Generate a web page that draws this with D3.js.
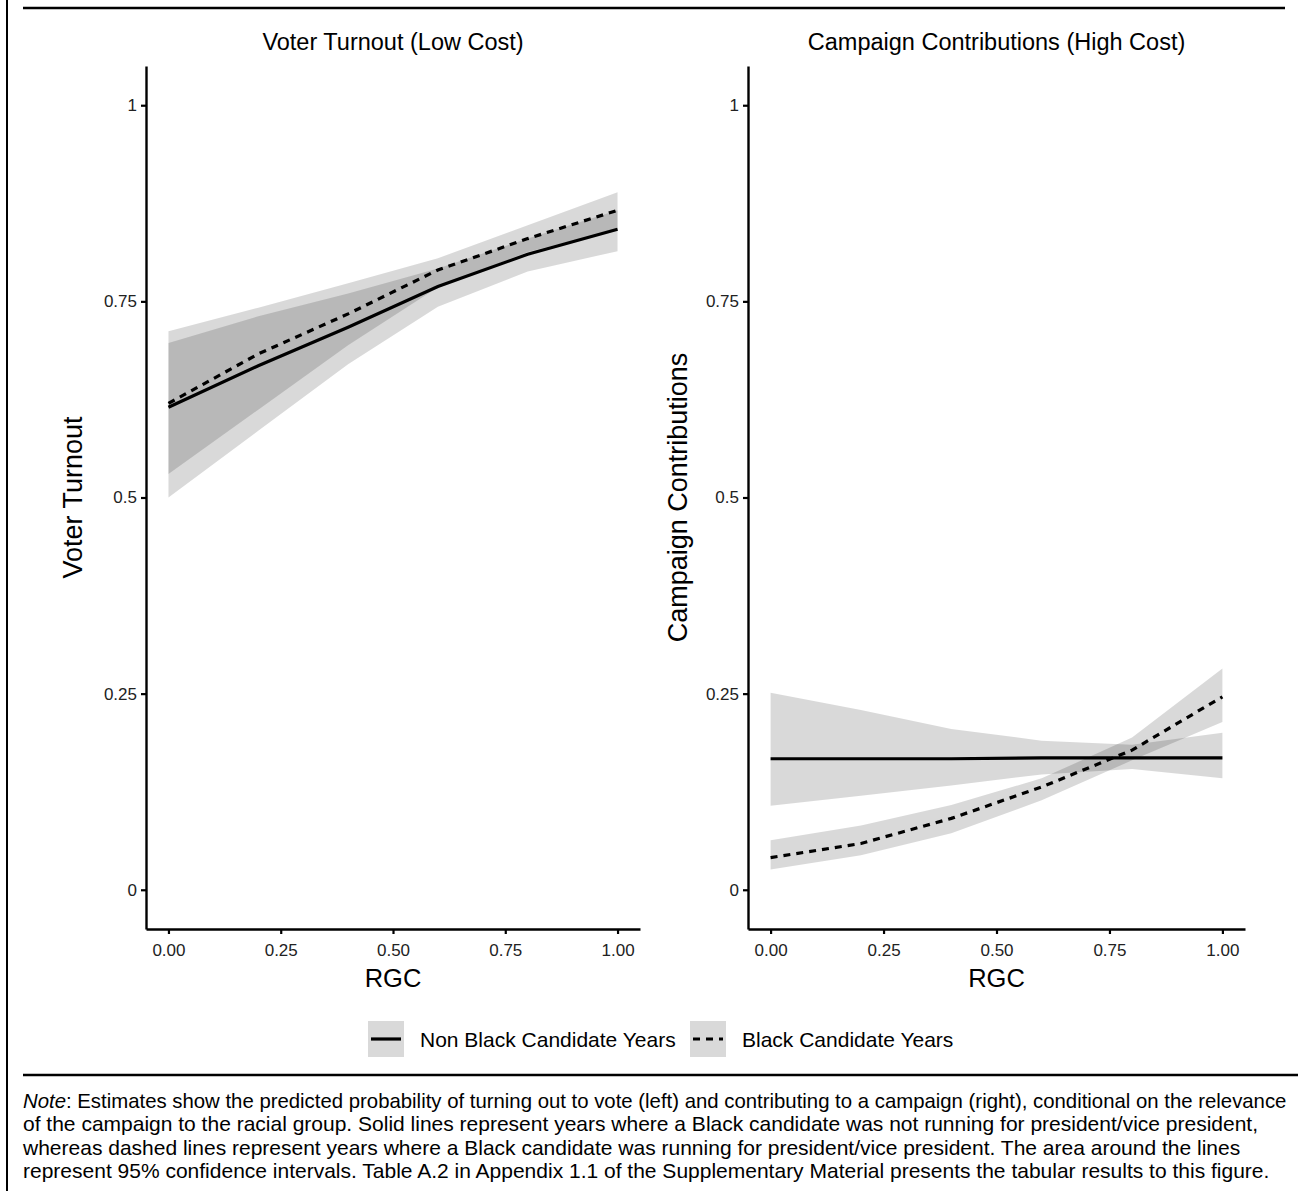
<!DOCTYPE html>
<html>
<head>
<meta charset="utf-8">
<script src="https://cdn.jsdelivr.net/npm/d3@7"></script>
<style>
  body { margin: 0; background: #fff; }
  svg { display: block; font-family: "Liberation Sans", Arial, sans-serif; }
</style>
</head>
<body>
<div id="chart"></div>
<script>
let width = 1298,
    height = 1191,
    ribbonFill = "#000",
    ribbonOpacity = 0.15;

// predicted probabilities at these RGC values
const rgc = [0, 0.2, 0.4, 0.6, 0.8, 1];

// voter turnout
const turnoutNonFit  = [0.615, 0.668, 0.717, 0.769, 0.810, 0.842];
const turnoutNonLow  = [0.500, 0.585, 0.670, 0.743, 0.788, 0.814];
const turnoutNonHigh = [0.697, 0.731, 0.760, 0.792, 0.830, 0.866];
const turnoutBlkFit  = [0.620, 0.683, 0.734, 0.790, 0.830, 0.866];
const turnoutBlkLow  = [0.530, 0.612, 0.694, 0.768, 0.813, 0.842];
const turnoutBlkHigh = [0.712, 0.742, 0.773, 0.805, 0.847, 0.889];

// campaign contributions
const contribNonFit  = [0.167, 0.167, 0.167, 0.168, 0.168, 0.168];
const contribNonLow  = [0.107, 0.120, 0.133, 0.147, 0.154, 0.142];
const contribNonHigh = [0.251, 0.229, 0.205, 0.190, 0.185, 0.200];
const contribBlkFit  = [0.041, 0.059, 0.091, 0.131, 0.178, 0.246];
const contribBlkLow  = [0.026, 0.044, 0.072, 0.114, 0.165, 0.214];
const contribBlkHigh = [0.063, 0.082, 0.108, 0.142, 0.194, 0.282];

const xTicks = [0, 0.25, 0.5, 0.75, 1];
const xTickLabels = ["0.00", "0.25", "0.50", "0.75", "1.00"];
const yTicks = [0, 0.25, 0.5, 0.75, 1];
const yTickLabels = ["0", "0.25", "0.5", "0.75", "1"];

const seriesNames = ["Non Black Candidate Years", "Black Candidate Years"];
const dashes = [null, "7,6"];

const noteLines = [
  ": Estimates show the predicted probability of turning out to vote (left) and contributing to a campaign (right), conditional on the relevance",
  "of the campaign to the racial group. Solid lines represent years where a Black candidate was not running for president/vice president,",
  "whereas dashed lines represent years where a Black candidate was running for president/vice president. The area around the lines",
  "represent 95% confidence intervals. Table A.2 in Appendix 1.1 of the Supplementary Material presents the tabular results to this figure."
];

const panels = [
  { title: "Voter Turnout (Low Cost)", ytitle: "Voter Turnout", left: 146, right: 640, ytx: 82,
    series: [[turnoutNonFit, turnoutNonLow, turnoutNonHigh], [turnoutBlkFit, turnoutBlkLow, turnoutBlkHigh]] },
  { title: "Campaign Contributions (High Cost)", ytitle: "Campaign Contributions", left: 748, right: 1245, ytx: 687,
    series: [[contribNonFit, contribNonLow, contribNonHigh], [contribBlkFit, contribBlkLow, contribBlkHigh]] }
];

const svg = d3.select("#chart").append("svg")
    .attr("width", width)
    .attr("height", height);

// frame lines
svg.append("line").attr("x1", 7).attr("x2", 7).attr("y1", 0).attr("y2", height)
    .attr("stroke", "#000").attr("stroke-width", 2);
svg.append("line").attr("x1", 23).attr("x2", 1285).attr("y1", 8).attr("y2", 8)
    .attr("stroke", "#000").attr("stroke-width", 2.5);
svg.append("line").attr("x1", 23).attr("x2", width).attr("y1", 1075).attr("y2", 1075)
    .attr("stroke", "#000").attr("stroke-width", 2.5);

const plotTop = 66, plotBottom = 929;

const y = d3.scaleLinear().domain([-0.05, 1.05]).range([plotBottom, plotTop]);

panels.forEach(p => {
    const x = d3.scaleLinear().domain([-0.05, 1.05]).range([p.left, p.right]);
    const g = svg.append("g");

    const area = d3.area()
        .x((d, i) => x(rgc[i]))
        .y0(d => y(d[0]))
        .y1(d => y(d[1]));

    const line = d3.line()
        .x((d, i) => x(rgc[i]))
        .y(d => y(d));

    p.series.forEach(s => {
        g.append("path")
            .datum(rgc.map((r, i) => [s[1][i], s[2][i]]))
            .attr("fill", ribbonFill)
            .attr("fill-opacity", ribbonOpacity)
            .attr("d", area);
    });

    p.series.forEach((s, k) => {
        g.append("path")
            .datum(s[0])
            .attr("fill", "none")
            .attr("stroke", "#000")
            .attr("stroke-width", 3.2)
            .attr("stroke-dasharray", dashes[k])
            .attr("d", line);
    });

    const xAxis = g.append("g")
        .attr("transform", `translate(0, ${plotBottom})`)
        .call(d3.axisBottom(x).tickValues(xTicks).tickFormat((d, i) => xTickLabels[i])
            .tickSize(5).tickSizeOuter(0).tickPadding(10));

    const yAxis = g.append("g")
        .attr("transform", `translate(${p.left}, 0)`)
        .call(d3.axisLeft(y).tickValues(yTicks).tickFormat((d, i) => yTickLabels[i])
            .tickSize(5).tickSizeOuter(0).tickPadding(4));

    [xAxis, yAxis].forEach(a => {
        a.select(".domain").attr("stroke-width", 2.4);
        a.selectAll(".tick line").attr("stroke-width", 2.2);
        a.selectAll(".tick text")
            .attr("fill", "#222")
            .style("font-size", "17px")
            .style("font-family", "Liberation Sans, Arial, sans-serif");
    });

    g.append("text")
        .attr("x", (p.left + p.right) / 2)
        .attr("y", 50)
        .attr("text-anchor", "middle")
        .style("font-size", "23.5px")
        .text(p.title);

    g.append("text")
        .attr("x", x(0.5))
        .attr("y", 987)
        .attr("text-anchor", "middle")
        .style("font-size", "25.5px")
        .text("RGC");

    g.append("text")
        .attr("transform", `translate(${p.ytx}, ${(plotTop + plotBottom) / 2}) rotate(-90)`)
        .attr("text-anchor", "middle")
        .style("font-size", "27px")
        .text(p.ytitle);
});

// legend
const legendX = [368, 690];
seriesNames.forEach((name, k) => {
    const lg = svg.append("g").attr("transform", `translate(${legendX[k]}, 1021)`);
    lg.append("rect")
        .attr("width", 36).attr("height", 36)
        .attr("fill", ribbonFill).attr("fill-opacity", ribbonOpacity);
    lg.append("line")
        .attr("x1", 3).attr("x2", 33).attr("y1", 18).attr("y2", 18)
        .attr("stroke", "#000").attr("stroke-width", 3.2)
        .attr("stroke-dasharray", dashes[k]);
    lg.append("text")
        .attr("x", 52).attr("y", 25.5)
        .style("font-size", "21px")
        .text(name);
});

// note (first line is squeezed to the full width, as in the original)
const noteY = [1108, 1131, 1155, 1178];
const noteWidth = 1264;
noteLines.forEach((t, i) => {
    const tx = svg.append("text")
        .attr("x", 0)
        .attr("y", 0)
        .attr("transform", `translate(23, ${noteY[i]})`)
        .style("font-size", "21px");
    if (i === 0) {
        tx.append("tspan").style("font-style", "italic").text("Note");
        tx.append("tspan").text(t);
        const len = tx.node().getComputedTextLength();
        if (len > noteWidth) {
            tx.attr("transform", `translate(23, ${noteY[i]}) scale(${noteWidth / len}, 1)`);
        }
    } else {
        tx.text(t);
    }
});
</script>
</body>
</html>
